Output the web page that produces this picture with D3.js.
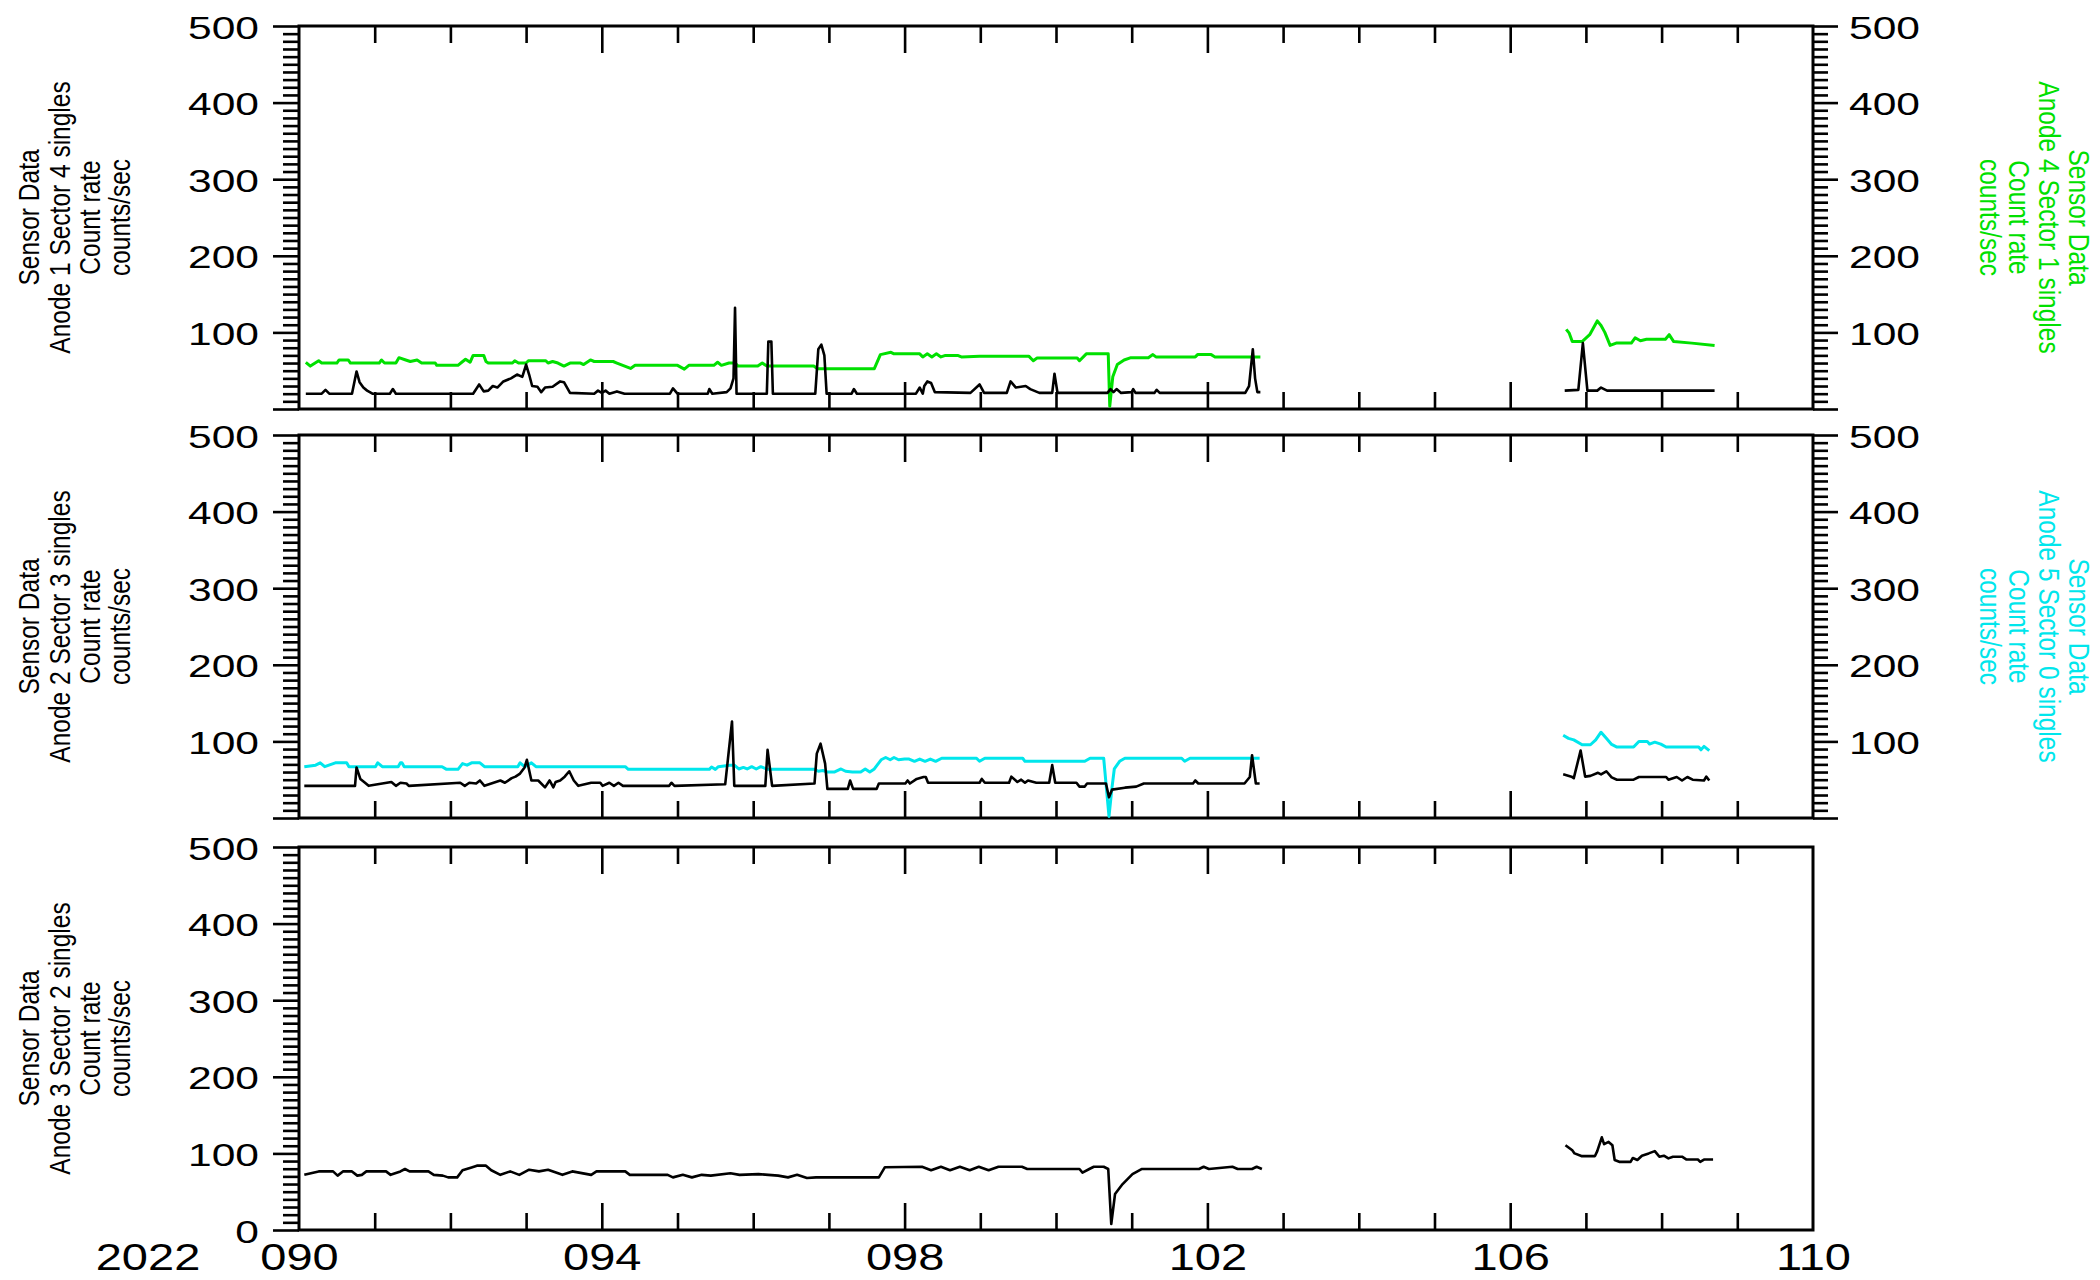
<!DOCTYPE html>
<html><head><meta charset="utf-8">
<script src="https://cdn.jsdelivr.net/npm/d3@7"></script>
<style>html,body{margin:0;padding:0;background:#fff;} svg{display:block;}</style>
</head><body><svg id="c" width="2100" height="1280"></svg>
<script>
// ---------------- DATA (day-of-year 2022, counts/sec); null = data gap ----------------
const a1s4 = [[90.09,20],[90.3,20],[90.35,25],[90.4,20],[90.7,20],[90.76,49],[90.8,35],[90.85,28],[90.9,24],[90.97,20],[91.2,20],[91.24,26],[91.28,20],[92.3,20],[92.38,32],[92.44,23],[92.5,24],[92.56,30],[92.62,28],[92.7,36],[92.8,40],[92.88,45],[92.95,42],[93.0,58],[93.04,45],[93.08,30],[93.15,29],[93.2,22],[93.25,28],[93.35,29],[93.45,36],[93.5,35],[93.58,21],[93.9,20],[93.95,24],[94.0,21],[94.05,24],[94.1,20],[94.2,23],[94.3,20],[94.9,20],[94.94,27],[95.0,20],[95.4,20],[95.42,26],[95.46,20],[95.65,22],[95.7,27],[95.74,40],[95.76,132],[95.78,20],[96.18,20],[96.2,88],[96.24,88],[96.26,20],[96.82,20],[96.86,78],[96.9,84],[96.94,70],[96.97,20],[97.3,20],[97.33,26],[97.37,20],[98.15,20],[98.2,28],[98.24,20],[98.26,30],[98.3,36],[98.35,34],[98.4,22],[98.87,21],[98.99,32],[99.05,21],[99.35,21],[99.4,36],[99.47,28],[99.6,30],[99.66,26],[99.78,21],[99.95,21],[99.98,46],[100.02,21],[100.68,21],[100.72,26],[100.76,22],[100.8,26],[100.86,21],[101.0,22],[101.02,26],[101.05,21],[101.3,21],[101.33,25],[101.37,21],[102.5,21],[102.55,30],[102.6,78],[102.63,40],[102.66,22],[102.7,22],null,[106.72,24],[106.9,25],[106.96,86],[107.02,24],[107.15,24],[107.2,28],[107.28,24],[108.7,24]];

const a4s1 = [[90.09,61],[90.15,56],[90.26,63],[90.3,60],[90.5,60],[90.53,64],[90.65,64],[90.68,60],[91.06,60],[91.09,64],[91.13,60],[91.28,60],[91.32,67],[91.41,64],[91.47,62],[91.56,64],[91.62,60],[91.8,60],[91.82,57],[92.1,57],[92.15,61],[92.2,65],[92.26,61],[92.3,70],[92.44,70],[92.47,62],[92.5,60],[92.82,60],[92.85,63],[92.9,60],[93.0,60],[93.03,63],[93.26,63],[93.29,60],[93.35,62],[93.42,60],[93.5,56],[93.58,60],[93.72,60],[93.76,58],[93.85,64],[93.9,62],[94.15,62],[94.2,60],[94.38,53],[94.44,57],[95.0,57],[95.09,52],[95.15,57],[95.48,57],[95.53,61],[95.58,57],[95.68,60],[95.76,60],[95.8,56],[96.06,56],[96.12,60],[96.18,56],[96.8,56],[96.85,52.6],[97.6,52.6],[97.68,71],[97.82,74],[97.86,72],[98.2,72],[98.24,68],[98.3,72],[98.36,68],[98.42,72],[98.48,68],[98.54,70],[98.7,70],[98.75,68],[98.99,69],[99.64,69],[99.7,63],[99.75,66.5],[100.28,66.5],[100.31,63],[100.4,72],[100.69,72],[100.71,3.5],[100.75,42],[100.81,58],[100.9,64],[100.99,67],[101.22,67],[101.28,71],[101.32,68],[101.84,68],[101.87,71],[102.05,71],[102.1,68],[102.7,68],null,[106.74,104],[106.78,99],[106.82,88],[106.95,88],[107.05,97],[107.15,115],[107.2,109],[107.25,100],[107.32,83],[107.4,86],[107.6,86],[107.65,93],[107.72,89],[107.8,91],[108.05,91],[108.1,97],[108.16,88],[108.4,86],[108.7,83]];

const a2s3 = [[90.07,42],[90.74,42],[90.76,66],[90.81,51],[90.86,47],[90.92,42],[91.22,47],[91.28,42],[91.34,46],[91.42,45],[91.45,42],[92.13,46],[92.19,42],[92.25,46],[92.34,45],[92.39,49],[92.45,42],[92.66,49],[92.72,46],[92.81,52],[92.86,54],[92.92,58],[92.98,66],[93.01,76],[93.07,49],[93.16,49],[93.25,40],[93.31,49],[93.36,40],[93.39,47],[93.45,49],[93.51,54],[93.57,61],[93.63,49],[93.69,42],[93.86,46],[93.98,46],[94.01,42],[94.1,46],[94.16,42],[94.22,46],[94.28,42],[94.89,42],[94.92,46],[94.96,42],[95.63,44],[95.72,126],[95.75,42],[96.16,42],[96.19,89],[96.25,42],[96.81,45],[96.84,84],[96.89,97],[96.95,71],[96.98,38],[97.25,38],[97.28,49],[97.32,38],[97.63,38],[97.66,45],[98.01,45],[98.04,49],[98.07,45],[98.16,51],[98.25,53.5],[98.28,53.5],[98.31,46],[98.99,46],[99.02,51],[99.06,46],[99.38,46],[99.41,54],[99.49,47],[99.54,50],[99.59,46],[99.63,49],[99.74,46],[99.91,46],[99.95,69],[99.99,46],[100.27,46],[100.31,41],[100.38,41],[100.41,45],[100.66,45],[100.7,27],[100.74,37],[100.91,39.6],[101.06,41],[101.16,45],[101.81,45],[101.84,49],[101.88,45],[102.49,45],[102.56,53.5],[102.59,82],[102.64,45],[102.69,45],null,[106.7,57],[106.81,54],[106.84,52],[106.93,88],[106.99,54],[107.06,55],[107.16,59],[107.2,57],[107.27,61],[107.34,53],[107.41,50],[107.63,50],[107.7,53.5],[108.06,53.5],[108.09,50],[108.2,53.5],[108.27,49],[108.34,53.5],[108.41,50],[108.56,49],[108.59,54],[108.63,49]];

const a5s0 = [[90.07,67],[90.22,69],[90.28,72],[90.34,67],[90.48,72],[90.63,72],[90.66,67],[91.01,67],[91.04,72],[91.1,67],[91.31,67],[91.34,72],[91.36,72],[91.39,67],[91.89,67],[91.95,63.5],[92.1,63.5],[92.16,71],[92.22,69],[92.28,72],[92.39,72],[92.45,67],[92.89,67],[92.92,72],[92.98,67],[93.07,72],[93.13,67],[94.31,67],[94.35,63.5],[95.42,63.5],[95.45,66.5],[95.5,63.5],[95.54,67],[95.69,69],[95.75,69],[95.81,64],[95.87,66],[95.92,64],[95.98,67],[96.04,64],[96.1,67],[96.19,63.5],[96.81,63.5],[96.86,61],[96.92,62],[96.98,60],[97.07,60],[97.16,64],[97.22,61],[97.31,60],[97.42,60],[97.48,64],[97.54,60],[97.6,64],[97.69,76],[97.75,79],[97.81,76],[97.86,79],[97.92,76],[98.0,77],[98.06,77],[98.13,74],[98.2,77],[98.27,74],[98.34,77],[98.41,74],[98.49,78],[98.95,78],[98.99,74],[99.06,78],[99.56,78],[99.59,74],[100.38,74],[100.45,78],[100.63,78],[100.7,2],[100.74,40],[100.77,64],[100.84,74],[100.91,78],[101.66,78],[101.7,74],[101.77,78],[102.69,78],null,[106.7,108],[106.77,104],[106.84,102],[106.95,95.6],[107.06,95.6],[107.13,102],[107.2,112],[107.27,104],[107.34,96],[107.41,92.6],[107.63,92.6],[107.7,100],[107.81,100],[107.84,96.5],[107.91,99],[107.99,96.5],[108.06,92.6],[108.49,92.6],[108.52,89],[108.56,93.5],[108.63,88]];

const a3s2 = [[90.07,72],[90.26,76.5],[90.45,76.5],[90.51,71],[90.58,76.5],[90.7,76.5],[90.77,71],[90.83,72],[90.89,76.5],[91.15,76.5],[91.21,72],[91.34,76.5],[91.4,79.6],[91.46,76.5],[91.71,76.5],[91.78,72],[91.9,71],[91.97,68.7],[92.09,68.7],[92.16,78],[92.28,81.7],[92.35,84],[92.47,84],[92.54,78],[92.66,72],[92.79,76.5],[92.91,72],[93.04,78.7],[93.17,76.5],[93.29,78.7],[93.48,72],[93.61,76.5],[93.86,72],[93.93,76.5],[94.31,76.5],[94.37,72],[94.87,72],[94.94,68.7],[95.07,72],[95.19,68.7],[95.32,72],[95.44,71],[95.7,74],[95.82,72],[96.07,73],[96.2,72],[96.33,71],[96.46,68.7],[96.58,72],[96.71,67.8],[96.83,68.7],[97.66,68.7],[97.74,82],[98.23,82.6],[98.35,78],[98.48,82.6],[98.6,78],[98.73,82.6],[98.86,78],[98.98,82.6],[99.11,78],[99.24,82.6],[99.55,82.6],[99.62,79.6],[100.31,79.6],[100.35,75],[100.44,79.6],[100.5,82.6],[100.63,82.6],[100.69,79.6],[100.73,7.8],[100.78,47],[100.88,60],[101.01,73],[101.13,79.6],[101.89,79.6],[101.95,82.6],[102.02,79.6],[102.33,82.6],[102.4,79.6],[102.59,79.6],[102.65,82.6],[102.72,79.6],null,[106.73,110.7],[106.82,104],[106.85,100],[106.94,96.5],[107.12,96.5],[107.15,103],[107.21,121],[107.24,112],[107.3,115],[107.35,110.7],[107.38,91.4],[107.44,89],[107.59,89],[107.62,94],[107.68,91.4],[107.74,97],[107.83,100],[107.91,103],[107.97,95.7],[108.03,97],[108.09,93.5],[108.15,95.7],[108.27,95.7],[108.33,92],[108.48,92],[108.51,89],[108.56,92],[108.68,92]];

const yMajorTicks = [0,100,200,300,400,500];
const yMinorTicks = d3.range(0, 501, 10);
const xMajorDays = [90,94,98,102,106,110];
const xMinorDays = d3.range(90, 111, 1);
const xTickLabels = ["090","094","098","102","106","110"];
const yearLabel = "2022";
const leftTitles = [
  ["Sensor Data","Anode 1 Sector 4 singles","Count rate","counts/sec"],
  ["Sensor Data","Anode 2 Sector 3 singles","Count rate","counts/sec"],
  ["Sensor Data","Anode 3 Sector 2 singles","Count rate","counts/sec"]
];
const rightTitles = [
  ["Sensor Data","Anode 4 Sector 1 singles","Count rate","counts/sec"],
  ["Sensor Data","Anode 5 Sector 0 singles","Count rate","counts/sec"],
  null
];

// ---------------- LAYOUT ----------------
const W = 2100, H = 1280;
const L = 299, R = 1813, PH = 383;
const tops = [26, 435, 847];
const GREEN = "#00e000", CYAN = "#00e6ec";
const FONT = "'Liberation Sans', Arial, Helvetica, sans-serif";
const panels = [
  {left: a1s4, right: a4s1, rcolor: GREEN, rAxis: true, zeroLabel: false},
  {left: a2s3, right: a5s0, rcolor: CYAN, rAxis: true, zeroLabel: false},
  {left: a3s2, right: null, rcolor: null, rAxis: false, zeroLabel: true}
];

const svg = d3.select("#c");
svg.append("rect").attr("width", W).attr("height", H).attr("fill", "#fff");

const x = d3.scaleLinear().domain([90, 110]).range([L, R]);
const TICK_SX = 1.33, TICK_FS = 32;
const XL_SX = 1.27, XL_FS = 37;
const XL_OFF = 40;
const TT_FS = 24.5, TT_SX = 1.2;

panels.forEach((p, i) => {
  const top = tops[i], bot = top + PH;
  const y = d3.scaleLinear().domain([0, 500]).range([bot, top]);
  const g = svg.append("g");

  const styleAxis = sel => {
    sel.select(".domain").remove();
    sel.selectAll("line").attr("stroke", "#000").attr("stroke-width", 2.6);
  };
  const innerMinor = xMinorDays.filter(d => d > 90 && d < 110 && !xMajorDays.includes(d));
  const innerMajor = xMajorDays.filter(d => d > 90 && d < 110);
  // x ticks bottom (inward) and top (inward)
  g.append("g").attr("transform", `translate(0,${bot})`)
    .call(d3.axisTop(x).tickValues(innerMinor).tickSize(17).tickFormat("")).call(styleAxis);
  g.append("g").attr("transform", `translate(0,${bot})`)
    .call(d3.axisTop(x).tickValues(innerMajor).tickSize(27).tickFormat("")).call(styleAxis);
  g.append("g").attr("transform", `translate(0,${top})`)
    .call(d3.axisBottom(x).tickValues(innerMinor).tickSize(17).tickFormat("")).call(styleAxis);
  g.append("g").attr("transform", `translate(0,${top})`)
    .call(d3.axisBottom(x).tickValues(innerMajor).tickSize(27).tickFormat("")).call(styleAxis);

  // left y ticks (outward)
  g.append("g").attr("transform", `translate(${L},0)`)
    .call(d3.axisLeft(y).tickValues(yMinorTicks.filter(v => v % 100 !== 0)).tickSize(16).tickFormat(""))
    .call(styleAxis);
  const lmaj = g.append("g").attr("transform", `translate(${L},0)`)
    .call(d3.axisLeft(y).tickValues(yMajorTicks).tickSize(26).tickFormat(d => (d === 0 && !p.zeroLabel) ? "" : d3.format("d")(d)))
    .call(styleAxis);
  lmaj.selectAll("text")
    .attr("x", 0).attr("dy", null).attr("dominant-baseline", "central")
    .attr("text-anchor", "end").attr("fill", "#000")
    .attr("font-family", FONT).attr("font-size", TICK_FS)
    .attr("transform", `translate(-40,1) scale(${TICK_SX},1)`);

  if (p.rAxis) {
    g.append("g").attr("transform", `translate(${R},0)`)
      .call(d3.axisRight(y).tickValues(yMinorTicks.filter(v => v % 100 !== 0)).tickSize(15).tickFormat(""))
      .call(styleAxis);
    const rmaj = g.append("g").attr("transform", `translate(${R},0)`)
      .call(d3.axisRight(y).tickValues(yMajorTicks).tickSize(25).tickFormat(d => d === 0 ? "" : d3.format("d")(d)))
      .call(styleAxis);
    rmaj.selectAll("text")
      .attr("x", 0).attr("dy", null).attr("dominant-baseline", "central")
      .attr("text-anchor", "start").attr("fill", "#000")
      .attr("font-family", FONT).attr("font-size", TICK_FS)
      .attr("transform", `translate(36,1) scale(${TICK_SX},1)`);
  }

  // frame
  g.append("rect").attr("x", L).attr("y", top).attr("width", R - L).attr("height", PH)
    .attr("fill", "none").attr("stroke", "#000").attr("stroke-width", 3);

  // data lines
  const line = d3.line().defined(d => d !== null).x(d => x(d[0])).y(d => y(d[1]));
  if (p.right) {
    g.append("path").datum(p.right).attr("d", line).attr("fill", "none")
      .attr("stroke", p.rcolor).attr("stroke-width", 3).attr("stroke-linejoin", "round");
  }
  g.append("path").datum(p.left).attr("d", line).attr("fill", "none")
    .attr("stroke", "#000").attr("stroke-width", 2.6).attr("stroke-linejoin", "round");

  // left title (rotated, reading bottom-to-top)
  const cy = top + PH / 2;
  const lx = [29, 60, 90, 120];
  leftTitles[i].forEach((t, k) => {
    svg.append("text").text(t)
      .attr("font-family", FONT).attr("font-size", TT_FS).attr("fill", "#000")
      .attr("text-anchor", "middle").attr("dominant-baseline", "central")
      .attr("transform", `translate(${lx[k]},${cy}) scale(${TT_SX},1) rotate(-90)`);
  });
  if (rightTitles[i]) {
    const rx = [2079, 2049, 2019, 1990];
    rightTitles[i].forEach((t, k) => {
      svg.append("text").text(t)
        .attr("font-family", FONT).attr("font-size", TT_FS).attr("fill", p.rcolor)
        .attr("text-anchor", "middle").attr("dominant-baseline", "central")
        .attr("transform", `translate(${rx[k]},${cy}) scale(${TT_SX},1) rotate(90)`);
    });
  }
});

// bottom x labels
const xl = svg.append("g").attr("transform", `translate(0,${tops[2] + PH})`)
  .call(d3.axisBottom(x).tickValues(xMajorDays).tickSize(0).tickFormat((d, i) => xTickLabels[i]));
xl.select(".domain").remove();
xl.selectAll("text")
  .attr("y", 0).attr("dy", null).attr("fill", "#000")
  .attr("font-family", FONT).attr("font-size", XL_FS).attr("text-anchor", "middle")
  .attr("transform", `translate(0,${XL_OFF}) scale(${XL_SX},1)`);
svg.append("text").text(yearLabel)
  .attr("font-family", FONT).attr("font-size", XL_FS).attr("fill", "#000")
  .attr("text-anchor", "middle")
  .attr("transform", `translate(148,${tops[2] + PH + XL_OFF}) scale(${XL_SX},1)`);
</script>
</body></html>
